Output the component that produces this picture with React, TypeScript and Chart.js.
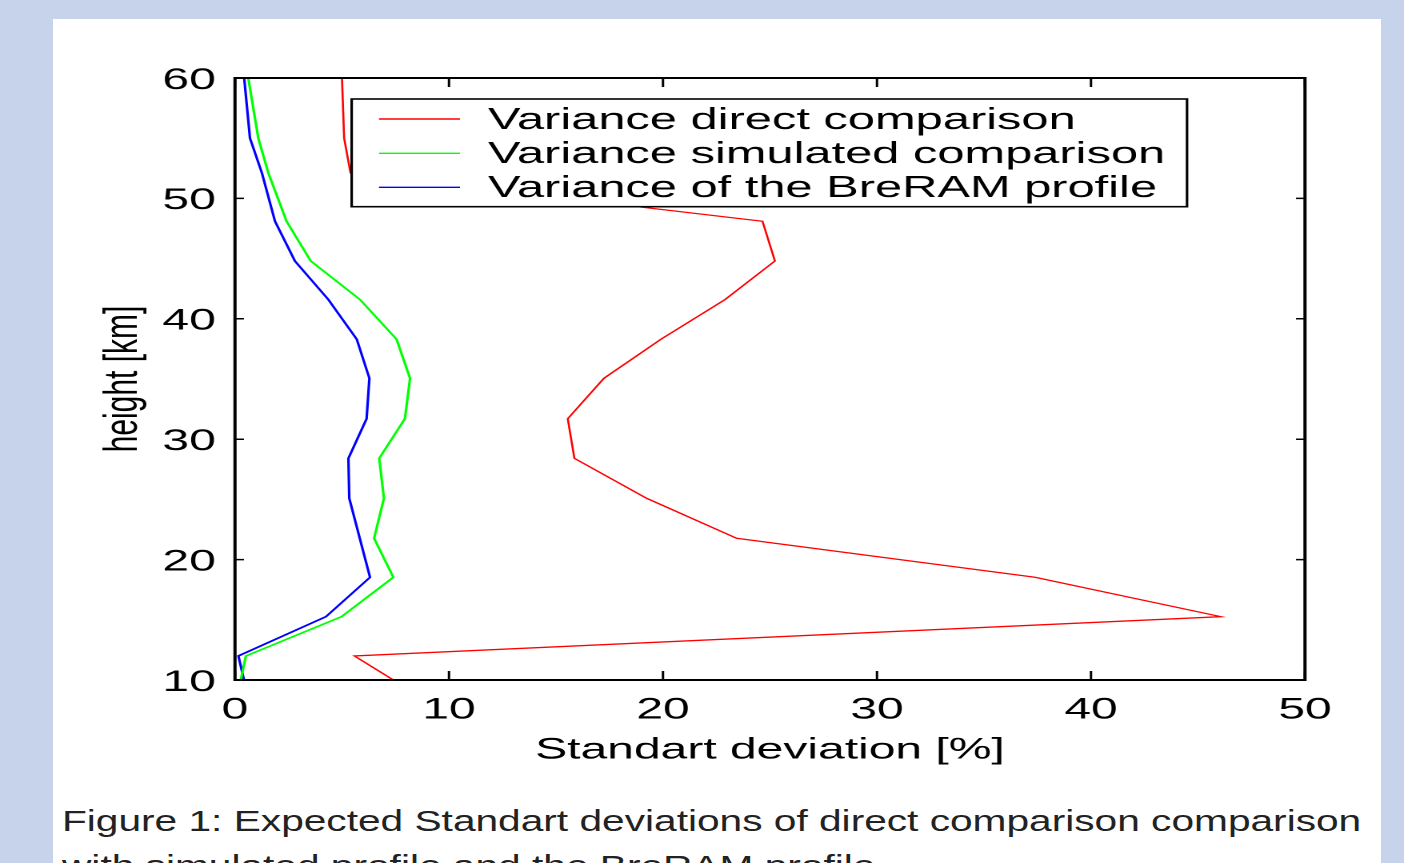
import { useEffect, useRef } from 'react';
import { Chart, registerables } from 'chart.js';

Chart.register(...registerables);

// Heights of the profile levels [km]
const heights = [10, 12.0, 15.26, 18.53, 21.77, 25.09, 28.41, 31.7, 35.06, 38.3, 41.6, 44.8, 48.1, 52.1, 55.0, 60];
// Standard deviations [%]
const directComparison = [7.40, 5.58, 46.07, 37.38, 23.44, 19.24, 15.86, 15.55, 17.24, 19.9, 22.9, 25.23, 24.65, 5.4, 5.1, 5.0];
const simulatedComparison = [0.27, 0.51, 4.98, 7.40, 6.50, 6.96, 6.74, 7.94, 8.18, 7.55, 5.84, 3.54, 2.41, 1.56, 1.09, 0.62];
const bremProfile = [0.42, 0.16, 4.25, 6.31, 5.83, 5.34, 5.30, 6.15, 6.28, 5.69, 4.36, 2.80, 1.87, 1.26, 0.70, 0.43];

const seriesLabels = ['Variance direct comparison', 'Variance simulated comparison', 'Variance of the BreRAM profile'];
const xTicks = [0, 10, 20, 30, 40, 50];
const yTicks = [10, 20, 30, 40, 50, 60];

const FONT = '"Liberation Sans", Arial, Helvetica, sans-serif';
const SX = 1.6; // horizontal stretch of the figure
const CW = 878;
const CH = 780;

const toPoints = (vals: number[]) => vals.map((v, i) => ({ x: v, y: heights[i] }));

const framePlugin = {
  id: 'frameAndLegend',
  afterDatasetsDraw(chart: any) {
    const { ctx, chartArea } = chart;
    const { left, right, top, bottom } = chartArea;
    const xs = chart.scales.x;
    const ys = chart.scales.y;
    ctx.save();
    // legend
    const lx0 = 219.8, lx1 = 741.9, ly0 = 99, ly1 = 206.7;
    ctx.fillStyle = '#fff';
    ctx.fillRect(lx0, ly0, lx1 - lx0, ly1 - ly0);
    ctx.strokeStyle = '#000';
    ctx.lineWidth = 1.6;
    ctx.strokeRect(lx0, ly0, lx1 - lx0, ly1 - ly0);
    const rows = [119, 153.3, 187.3];
    ctx.font = `30.5px ${FONT}`;
    ctx.textBaseline = 'middle';
    ctx.textAlign = 'left';
    chart.data.datasets.forEach((ds: any, i: number) => {
      const y = rows[i];
      ctx.strokeStyle = ds.borderColor;
      ctx.lineWidth = 1.4;
      ctx.beginPath();
      ctx.moveTo(236.9, y);
      ctx.lineTo(287.5, y);
      ctx.stroke();
      ctx.fillStyle = '#000';
      ctx.fillText(ds.label, 305, y + 1.5);
    });
    // frame box
    ctx.strokeStyle = '#000';
    ctx.lineWidth = 2;
    ctx.strokeRect(left, top, right - left, bottom - top);
    // inward ticks on all four sides
    ctx.lineWidth = 1.5;
    ctx.beginPath();
    xs.ticks.forEach((t: any) => {
      const px = xs.getPixelForValue(t.value);
      ctx.moveTo(px, bottom);
      ctx.lineTo(px, bottom - 9);
      ctx.moveTo(px, top);
      ctx.lineTo(px, top + 9);
    });
    ys.ticks.forEach((t: any) => {
      const py = ys.getPixelForValue(t.value);
      ctx.moveTo(left, py);
      ctx.lineTo(left + 5.6, py);
      ctx.moveTo(right, py);
      ctx.lineTo(right - 5.6, py);
    });
    ctx.stroke();
    ctx.restore();
  },
};

export default function App() {
  const ref = useRef<HTMLCanvasElement>(null);

  useEffect(() => {
    const canvas = ref.current;
    if (!canvas) return;
    const chart = new Chart(canvas, {
      type: 'scatter',
      data: {
        datasets: [
          { label: seriesLabels[0], data: toPoints(directComparison), borderColor: '#ff0000', backgroundColor: '#ff0000', borderWidth: 1.3, showLine: true, pointRadius: 0, tension: 0 },
          { label: seriesLabels[1], data: toPoints(simulatedComparison), borderColor: '#00ff00', backgroundColor: '#00ff00', borderWidth: 1.6, showLine: true, pointRadius: 0, tension: 0 },
          { label: seriesLabels[2], data: toPoints(bremProfile), borderColor: '#0000ff', backgroundColor: '#0000ff', borderWidth: 1.6, showLine: true, pointRadius: 0, tension: 0 },
        ],
      },
      options: {
        animation: false,
        responsive: false,
        devicePixelRatio: 2,
        layout: { padding: { top: 78, right: CW - 1305 / SX, bottom: 0, left: 0 } },
        plugins: { legend: { display: false }, tooltip: { enabled: false } },
        scales: {
          x: {
            type: 'linear',
            min: 0,
            max: 50,
            afterBuildTicks: (s: any) => { s.ticks = xTicks.map((v) => ({ value: v })); },
            afterFit: (s: any) => { s.height = CH - 680; },
            ticks: { color: '#000', font: { family: FONT, size: 30 }, padding: 12, maxRotation: 0 },
            grid: { display: false, drawTicks: false },
            border: { display: false },
            title: { display: true, text: 'Standart deviation [%]', color: '#000', font: { family: FONT, size: 30 }, padding: { top: 0, bottom: 12 } },
          },
          y: {
            type: 'linear',
            min: 10,
            max: 60,
            afterBuildTicks: (s: any) => { s.ticks = yTicks.map((v) => ({ value: v })); },
            afterFit: (s: any) => { s.width = 235 / SX; },
            ticks: { color: '#000', font: { family: FONT, size: 30 }, padding: 12, labelOffset: 2.5 },
            grid: { display: false, drawTicks: false },
            border: { display: false },
            title: { display: true, text: 'height [km]', color: '#000', font: { family: FONT, size: 30 }, padding: { top: 59, bottom: 0 } },
          },
        },
      },
      plugins: [framePlugin],
    } as any);
    return () => chart.destroy();
  }, []);

  return (
    <div style={{ position: 'absolute', left: 0, top: 0, width: 1404, height: 863, background: '#c7d3ea', overflow: 'hidden' }}>
      <div style={{ position: 'absolute', left: 53, top: 19, width: 1328, height: 900, background: '#ffffff' }} />
      <div style={{ position: 'absolute', left: 0, top: 0, width: CW, height: CH, transform: `scaleX(${SX})`, transformOrigin: '0 0' }}>
        <canvas ref={ref} width={CW} height={CH} style={{ display: 'block', width: CW, height: CH }} />
      </div>
      <div
        style={{
          position: 'absolute',
          left: 62,
          top: 798,
          fontFamily: FONT,
          fontSize: 30,
          lineHeight: '45px',
          color: '#222',
          whiteSpace: 'nowrap',
          transform: 'scaleX(1.355)',
          transformOrigin: '0 0',
        }}
      >
        <div>Figure 1: Expected Standart deviations of direct comparison comparison</div>
        <div>with simulated profile and the BreRAM profile</div>
      </div>
    </div>
  );
}
